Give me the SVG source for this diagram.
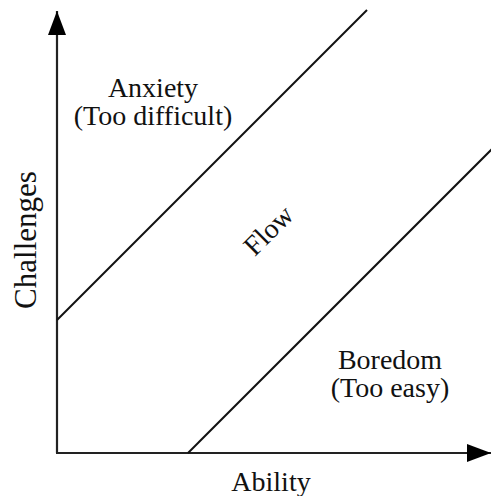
<svg xmlns="http://www.w3.org/2000/svg" width="491" height="496" viewBox="0 0 491 496">
  <style>
    .axis { stroke: #222; stroke-width: 2.2; fill: none; }
    .bound { stroke: #111; stroke-width: 2; fill: none; }
    .label { font-family: "Liberation Serif", "DejaVu Serif", serif; font-size: 28px; fill: #111; text-anchor: middle; }
    .big { font-size: 31px; }
  </style>
  <defs>
    <marker id="arrow" viewBox="0 0 24 18" refX="24" refY="9" markerWidth="24" markerHeight="18" markerUnits="userSpaceOnUse" orient="auto">
      <path d="M0,0 L24,9 L0,18 Z" fill="#000"/>
    </marker>
  </defs>
  <rect width="491" height="496" fill="#fff"/>

  <g id="connectors">
    <!-- axes -->
    <line id="axis-challenges" class="axis" x1="57" y1="453" x2="57" y2="11" marker-end="url(#arrow)"/>
    <line id="axis-ability" class="axis" x1="56" y1="453" x2="491" y2="453" marker-end="url(#arrow)"/>
    <!-- channel boundaries -->
    <line id="upper-bound" class="bound" x1="57" y1="320" x2="367" y2="10"/>
    <line id="lower-bound" class="bound" x1="188" y1="453" x2="494" y2="147"/>
  </g>

  <g id="anxiety">
    <text class="label" x="153" y="97">Anxiety</text>
    <text class="label" x="153" y="125">(Too difficult)</text>
  </g>

  <g id="flow">
    <text class="label" transform="translate(275,237) rotate(-45)">Flow</text>
  </g>

  <g id="boredom">
    <text class="label" x="390" y="369">Boredom</text>
    <text class="label" x="390" y="397">(Too easy)</text>
  </g>

  <g id="challenges">
    <text class="label big" transform="translate(36,240) rotate(-90)">Challenges</text>
  </g>

  <g id="ability">
    <text class="label" x="271" y="491">Ability</text>
  </g>
</svg>
